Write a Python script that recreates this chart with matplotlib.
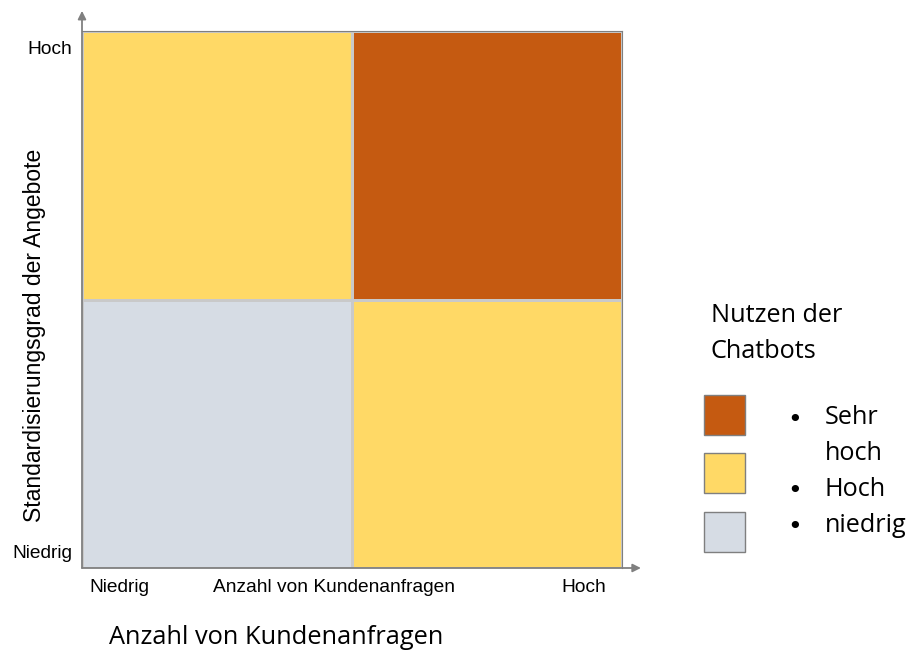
import matplotlib
matplotlib.use("Agg")
import matplotlib.pyplot as plt
from matplotlib.colors import ListedColormap
from matplotlib.patches import Rectangle
import numpy as np

# benefit level per quadrant: 0 = niedrig, 1 = hoch, 2 = sehr hoch
# rows: bottom (Niedrig) -> top (Hoch), cols: left (Niedrig) -> right (Hoch)
levels = [[0, 1],
          [1, 2]]
level_colors = ["#D6DCE4", "#FFD966", "#C55A11"]
x_ticklabels = ["Niedrig", "Anzahl von Kundenanfragen", "Hoch"]
y_ticklabels = ["Niedrig", "Hoch"]
legend_title = ["Nutzen der", "Chatbots"]
legend_lines = ["Sehr", "hoch", "Hoch", "niedrig"]
bullet_lines = [0, 2, 3]   # lines that start with a bullet

W, H = 912, 652
fig = plt.figure(figsize=(W / 100, H / 100), dpi=100)

narrow = ["Liberation Sans", "DejaVu Sans"]
body = ["Open Sans", "DejaVu Sans"]

# axes placed in pixel coords of the reference
x0, x1, y0, y1 = 82, 622, 31, 568
ax = fig.add_axes([x0 / W, 1 - y1 / H, (x1 - x0) / W, (y1 - y0) / H])

cmap = ListedColormap(level_colors)
ax.pcolormesh(np.arange(3), np.arange(3), np.array(levels), cmap=cmap,
              vmin=-0.5, vmax=2.5, edgecolor="#C9C9C9", linewidth=0.8)
ax.set_xlim(0, 2)
ax.set_ylim(0, 2)
for s in ax.spines.values():
    s.set_visible(False)
for side in ["top", "right"]:
    ax.spines[side].set_visible(True)
    ax.spines[side].set_color("#7F7F7F")

# axis arrows
ax.annotate("", xy=(0, 2.075), xytext=(0, 0), xycoords="data",
            arrowprops=dict(arrowstyle="-|>", color="#808080", lw=1.3,
                            mutation_scale=12, shrinkA=0, shrinkB=0),
            annotation_clip=False)
ax.annotate("", xy=(2.07, 0), xytext=(0, 0), xycoords="data",
            arrowprops=dict(arrowstyle="-|>", color="#808080", lw=1.3,
                            mutation_scale=12, shrinkA=0, shrinkB=0),
            annotation_clip=False)

ax.set_xticks([0.14, 0.935, 1.86])
ax.set_xticklabels(x_ticklabels, family=narrow, fontsize=13.8)
ax.set_yticks([0.063, 1.937])
ax.set_yticklabels(y_ticklabels, family=narrow, fontsize=13.8)
ax.tick_params(length=0, pad=7)
ax.tick_params(axis="x", pad=8)

fig.text(35 / W, 1 - 335 / H, "Standardisierungsgrad der Angebote",
         rotation=90, ha="center", va="center", family=narrow, fontsize=16.5)
fig.text(276 / W, 1 - 638 / H, "Anzahl von Kundenanfragen",
         ha="center", va="center", family=body, fontsize=18.3)

# legend
for y, t in zip([316, 351], legend_title):
    fig.text(711 / W, 1 - y / H, t, ha="left", va="center",
             family=body, fontsize=18.2)
sq_tops = [395, 453, 512]
for top, c in zip(sq_tops, [level_colors[2], level_colors[1], level_colors[0]]):
    fig.patches.append(Rectangle((704 / W, 1 - (top + 40) / H), 41 / W, 40 / H,
                                 transform=fig.transFigure, facecolor=c,
                                 edgecolor="#7F7F7F", linewidth=1.0))
line_ys = [418, 453, 489, 525]
for i, (y, t) in enumerate(zip(line_ys, legend_lines)):
    if i in bullet_lines:
        fig.text(795 / W, 1 - (y + 2) / H, "•", ha="center", va="center",
                 family=["DejaVu Sans"], fontsize=18)
    fig.text(825 / W, 1 - y / H, t, ha="left", va="center",
             family=body, fontsize=18.2)

fig.savefig("out.png", dpi=100)
